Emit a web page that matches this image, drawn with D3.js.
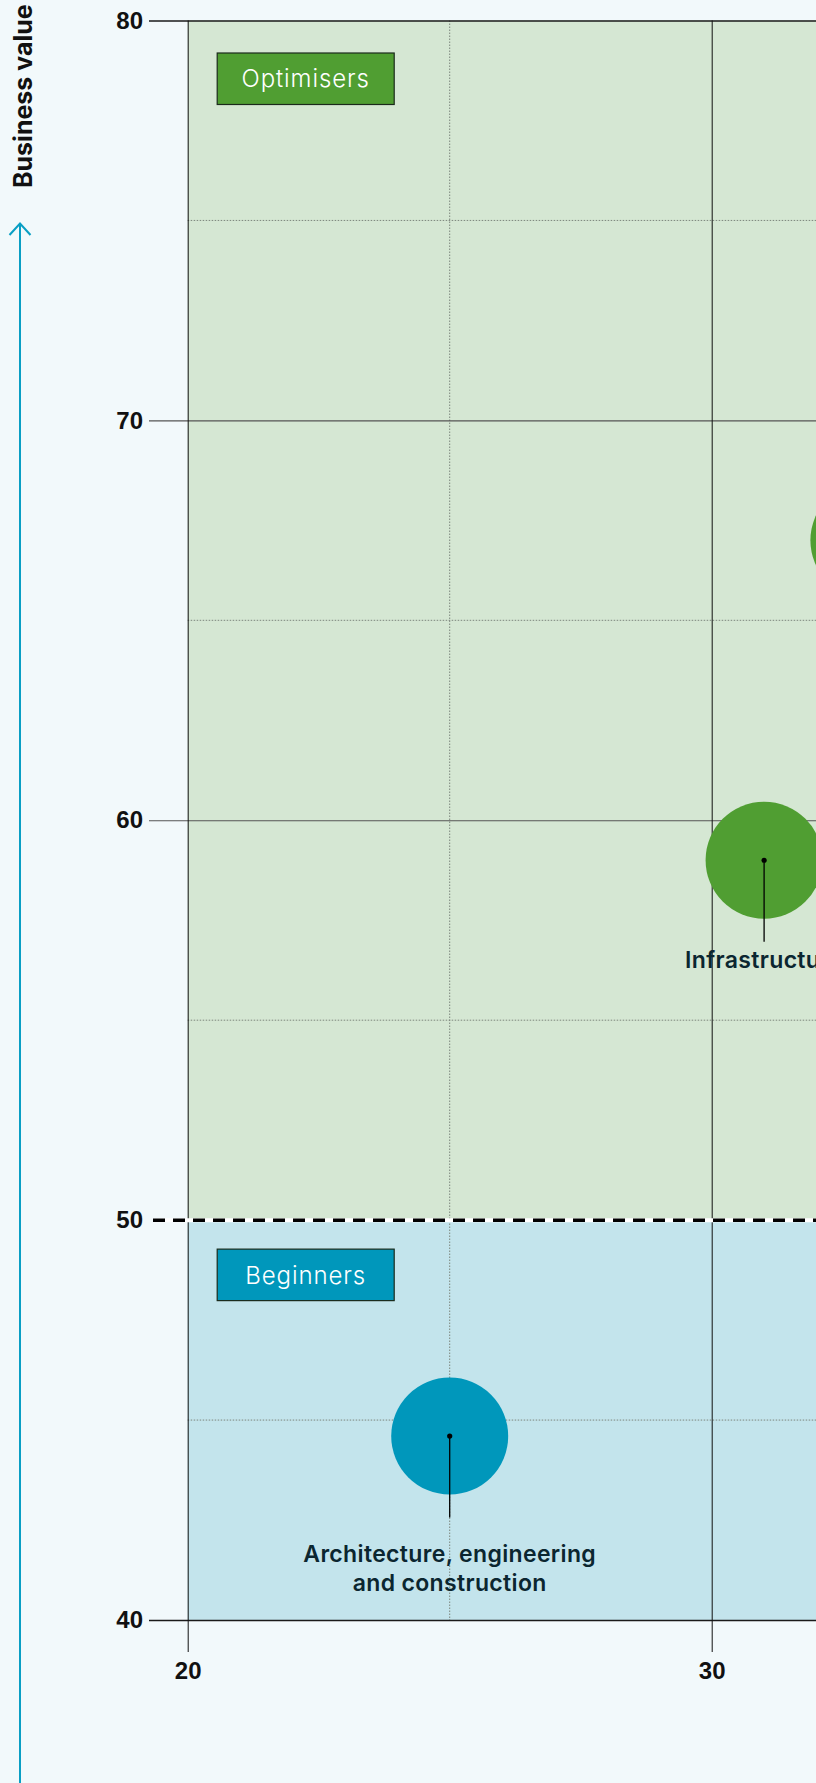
<!DOCTYPE html>
<html>
<head>
<meta charset="utf-8">
<script src="https://cdn.jsdelivr.net/npm/d3@7"></script>
<style>
  html, body { margin: 0; padding: 0; background: #f2f9fb; }
  svg { display: block; font-family: Inter, "Noto Sans", sans-serif; }
</style>
</head>
<body>
<svg id="chart" width="816" height="1783"></svg>
<script>
// data
var sectors = ["Infrastructure", "Architecture, engineering\nand construction", ""];
var techScore = [31, 25, 33];
var valueScore = [59, 44.6, 67];
var bubbleSize = [1, 1, 1];
var groups = ["Optimisers", "Beginners", "Optimisers"];

var zoneNames = ["Optimisers", "Beginners"];
var zoneFrom = [50, 40];
var zoneTo = [80, 50];
var zoneFill = ["#d5e7d3", "#c3e4ec"];
var zoneColor = ["#509e32", "#0097bb"];

var yTicks = [40, 50, 60, 70, 80];
var yMinor = [45, 55, 65, 75];
var xTicks = [20, 30];
var xMinor = [25];
var threshold = 50;

var svg = d3.select("#chart");

var margin = { top: 20.5, left: 187.7 };

// the chart runs on past the right edge of the page
var xScale = d3.scaleLinear().domain([20, 40]).range([margin.left, margin.left + 20 * 52.4]);
var yScale = d3.scaleLinear().domain([40, 80]).range([1620, margin.top]);
var rScale = d3.scaleSqrt().domain([0, 1]).range([0, 58.5]);

var x0 = xScale(20), x1 = xScale(40);

// background zones
svg.selectAll(".zone")
    .data(zoneNames)
    .enter().append("rect")
    .attr("x", x0)
    .attr("width", x1 - x0)
    .attr("y", function (d, i) { return yScale(zoneTo[i]); })
    .attr("height", function (d, i) { return yScale(zoneFrom[i]) - yScale(zoneTo[i]); })
    .style("fill", function (d, i) { return zoneFill[i]; });

// minor dotted grid
svg.selectAll(".ymin")
    .data(yMinor)
    .enter().append("line")
    .attr("x1", x0).attr("x2", x1)
    .attr("y1", function (d) { return yScale(d); })
    .attr("y2", function (d) { return yScale(d); })
    .style("stroke", "#7d867d").style("stroke-width", 1)
    .style("stroke-dasharray", "1.5,1.5");

svg.selectAll(".xmin")
    .data(xMinor)
    .enter().append("line")
    .attr("y1", yScale(80)).attr("y2", yScale(40))
    .attr("x1", function (d) { return xScale(d); })
    .attr("x2", function (d) { return xScale(d); })
    .style("stroke", "#7d867d").style("stroke-width", 1)
    .style("stroke-dasharray", "1.5,1.5");

// y axis (ticks run across as gridlines)
var yAxis = svg.append("g")
    .attr("transform", "translate(" + x0 + ",0)")
    .call(d3.axisLeft(yScale).tickValues(yTicks).tickSize(38.7).tickPadding(6).tickFormat(d3.format("d")));
yAxis.select(".domain").remove();
yAxis.selectAll(".tick line")
    .attr("x2", x1 - x0)
    .attr("x1", -38.7)
    .style("stroke", function (d) { return d == 70 || d == 60 ? "#555" : "#1a1a1a"; })
    .style("stroke-width", function (d) { return d == 70 || d == 60 ? 1.2 : 1.5; })
    .style("display", function (d) { return d == threshold ? "none" : null; });
yAxis.selectAll(".tick text")
    .style("font-size", "24px").style("font-weight", 700).style("fill", "#111");

// x axis
var xAxis = svg.append("g")
    .attr("transform", "translate(0," + yScale(40) + ")")
    .call(d3.axisBottom(xScale).tickValues(xTicks).tickSize(32).tickPadding(10).tickFormat(d3.format("d")));
xAxis.select(".domain").remove();
xAxis.selectAll(".tick line")
    .attr("y1", yScale(80) - yScale(40))
    .style("stroke", "#111").style("stroke-width", 1);
xAxis.selectAll(".tick text")
    .style("font-size", "24px").style("font-weight", 700).style("fill", "#111");

// threshold dashed line
svg.append("line")
    .attr("x1", 153).attr("x2", x1)
    .attr("y1", yScale(threshold)).attr("y2", yScale(threshold))
    .style("stroke", "#fff").style("stroke-width", 4);
svg.append("line")
    .attr("x1", 153).attr("x2", x1)
    .attr("y1", yScale(threshold)).attr("y2", yScale(threshold))
    .style("stroke", "#000").style("stroke-width", 3.5)
    .style("stroke-dasharray", "12,8");

// zone badges
zoneNames.forEach(function (name, i) {
    var top = i == 0 ? yScale(zoneTo[i]) + 32.5 : yScale(zoneTo[i]) + 29;
    var g = svg.append("g").attr("transform", "translate(" + (x0 + 29.5) + "," + top + ")");
    g.append("rect")
        .attr("width", 177).attr("height", 51.5)
        .style("fill", zoneColor[i]).style("stroke", "#1b2a1b").style("stroke-width", 1.2);
    g.append("text")
        .attr("x", 88.5).attr("y", 26).attr("dy", "0.35em")
        .attr("text-anchor", "middle")
        .style("fill", "#fff").style("font-size", "24px").style("font-weight", 300)
        .style("letter-spacing", "0.9px")
        .text(name);
});

// bubbles
var pts = sectors.map(function (s, i) {
    return { name: s, x: techScore[i], y: valueScore[i], r: rScale(bubbleSize[i]), group: groups[i] };
});

svg.selectAll(".bubble")
    .data(pts)
    .enter().append("circle")
    .attr("cx", function (d) { return xScale(d.x); })
    .attr("cy", function (d) { return yScale(d.y); })
    .attr("r", function (d) { return d.r; })
    .style("fill", function (d) { return zoneColor[zoneNames.indexOf(d.group)]; });

svg.selectAll(".leader")
    .data(pts)
    .enter().append("line")
    .attr("x1", function (d) { return xScale(d.x); })
    .attr("x2", function (d) { return xScale(d.x); })
    .attr("y1", function (d) { return yScale(d.y); })
    .attr("y2", function (d) { return yScale(d.y) + d.r + 23; })
    .style("stroke", "#000").style("stroke-width", 1.3);

svg.selectAll(".dot")
    .data(pts)
    .enter().append("circle")
    .attr("cx", function (d) { return xScale(d.x); })
    .attr("cy", function (d) { return yScale(d.y); })
    .attr("r", 2.6)
    .style("fill", "#000");

var labels = svg.selectAll(".label")
    .data(pts.filter(function (d) { return d.name; }))
    .enter().append("text")
    .attr("text-anchor", "middle")
    .style("font-size", "23px").style("font-weight", 600).style("fill", "#0b2630")
    .style("letter-spacing", "0.35px")
    .attr("transform", function (d) {
        var lines = d.name.split("\n");
        var off = lines.length > 1 ? 126 : 108;
        return "translate(" + xScale(d.x) + "," + (yScale(d.y) + off) + ")";
    });
labels.selectAll("tspan")
    .data(function (d) { return d.name.split("\n"); })
    .enter().append("tspan")
    .attr("x", 0)
    .attr("y", function (d, i) { return i * 29; })
    .text(function (d) { return d; });

// vertical axis title with arrow
svg.append("text")
    .attr("transform", "translate(31.5,188) rotate(-90)")
    .style("font-size", "25px").style("font-weight", 700).style("fill", "#111")
    .text("Business value");

svg.append("line")
    .attr("x1", 20).attr("x2", 20).attr("y1", 223).attr("y2", 1783)
    .style("stroke", "#0a9fc4").style("stroke-width", 2);
svg.append("path")
    .attr("d", "M9.5,235L20,223.5L30.5,235")
    .style("fill", "none").style("stroke", "#0a9fc4").style("stroke-width", 2);
</script>
</body>
</html>
